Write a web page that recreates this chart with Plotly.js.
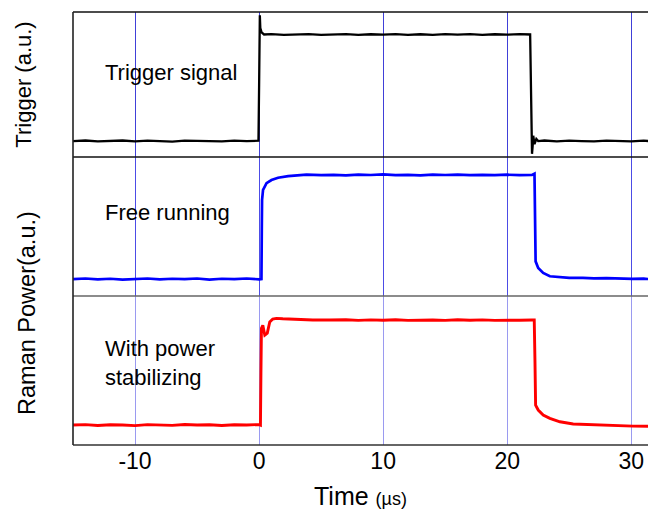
<!DOCTYPE html>
<html>
<head>
<meta charset="utf-8">
<script src="https://cdn.plot.ly/plotly-3.0.1.min.js"></script>
<style>html,body{margin:0;padding:0;background:#fff;}#chart{width:648px;height:515px;}</style>
</head>
<body>
<div id="chart"></div>
<script>
// Time axis ticks (µs)
const tickVals = [-10, 0, 10, 20, 30];
const tickText = ["-10", "0", "10", "20", "30"];

// Trigger signal (normalized a.u.)
const trigX = [-15, -14, -13, -12, -11, -10, -9, -8, -7, -6, -5, -4, -3, -2, -1, -0.05, 0.0, 0.02, 0.06, 0.10, 0.2, 0.4, 1, 2, 3, 4, 5, 6, 7, 8, 9, 10, 11, 12, 13, 14, 15, 16, 17, 18, 19, 20, 21, 21.85, 21.9, 21.95, 22.0, 22.05, 22.1, 22.2, 22.35, 22.5, 23, 24, 25, 26, 27, 28, 29, 30, 31, 31.4];
const trigY = [0.0, 0.005, -0.004, 0.0, 0.005, -0.003, 0.004, 0.0, -0.005, 0.003, 0.005, 0.0, -0.004, 0.004, 0.0, 0.003, 0.5, 1.10, 1.18, 1.06, 1.02, 1.0, 1.003, 0.997, 1.0, 1.003, 0.997, 1.0, 1.004, 0.997, 1.002, 0.998, 1.003, 0.997, 1.002, 0.997, 1.003, 0.999, 1.003, 0.997, 1.002, 0.998, 1.003, 1.0, 0.5, -0.02, -0.12, -0.05, 0.05, -0.03, 0.02, 0.0, 0.005, -0.003, 0.004, 0.0, -0.004, 0.003, 0.0, -0.003, 0.004, 0.0];

// Raman power, free running (normalized a.u.)
const freeX = [-15, -14, -13, -12, -11, -10, -9, -8, -7, -6, -5, -4, -3, -2, -1, 0.0, 0.19, 0.22, 0.24, 0.32, 0.6, 1.0, 1.53, 2.34, 3.82, 5, 6, 7, 8, 9, 10, 11, 12, 13, 14, 15, 16, 17, 18, 19, 20, 21, 22.0, 22.2, 22.25, 22.29, 22.5, 22.9, 23.44, 24.25, 25, 26.1, 27, 28, 29, 30.1, 31, 31.4];
const freeY = [0.0, 0.005, -0.003, 0.003, -0.005, 0.0, 0.005, -0.003, 0.003, 0.0, 0.005, -0.005, 0.003, 0.0, 0.005, -0.003, 0.0, 0.50, 0.76, 0.856, 0.921, 0.952, 0.974, 0.990, 1.003, 0.998, 1.002, 0.996, 1.004, 1.0, 1.006, 0.998, 1.002, 0.997, 1.003, 1.0, 1.004, 0.998, 1.002, 0.998, 1.003, 0.999, 1.0, 1.012, 0.6, 0.17, 0.107, 0.059, 0.027, 0.017, 0.012, 0.011, 0.006, 0.009, 0.003, 0.002, 0.004, 0.0];

// Raman power, with power stabilizing (normalized a.u.)
const stabX = [-15, -14, -13, -12, -11, -10, -9, -8, -7, -6, -5, -4, -3, -2, -1, 0.0, 0.11, 0.15, 0.19, 0.30, 0.38, 0.46, 0.66, 0.86, 1.10, 1.40, 1.91, 3.02, 4.33, 5.7, 7, 8, 9, 10, 11, 12, 13, 14, 15, 16, 17, 18, 19, 20, 21, 22.0, 22.18, 22.24, 22.29, 22.5, 22.9, 23.44, 24.25, 25.32, 26.5, 27.47, 28.5, 29.5, 30.13, 31.4];
const stabY = [0.0, 0.004, -0.004, 0.003, 0.0, -0.005, 0.004, 0.0, -0.003, 0.005, 0.0, 0.003, -0.004, 0.003, 0.0, 0.005, 0.0, 0.5, 0.921, 0.95, 0.90, 0.857, 0.876, 0.981, 1.010, 1.016, 1.012, 1.006, 1.0, 1.0, 1.003, 0.997, 1.002, 0.998, 1.003, 0.997, 1.001, 1.0, 0.997, 1.003, 0.998, 1.002, 0.997, 1.001, 0.998, 1.0, 1.0, 0.6, 0.19, 0.143, 0.095, 0.064, 0.031, 0.010, 0.004, 0.0, -0.004, -0.006, -0.01, -0.012];

const FONT = "Liberation Sans, Arial, sans-serif";

const traces = [
  {x: trigX, y: trigY, xaxis: "x3", yaxis: "y3", mode: "lines", line: {color: "#000000", width: 2.3}, hoverinfo: "skip"},
  {x: freeX, y: freeY, xaxis: "x2", yaxis: "y2", mode: "lines", line: {color: "#0000ff", width: 2.7}, hoverinfo: "skip"},
  {x: stabX, y: stabY, xaxis: "x", yaxis: "y", mode: "lines", line: {color: "#ff0000", width: 2.9}, hoverinfo: "skip"}
];

const yCommon = {showticklabels: false, ticks: "", showgrid: false, zeroline: false, showline: false, fixedrange: true};
const xHidden = (anchor, col) => ({range: [-15, 31.35], matches: "x", anchor: anchor, tickvals: tickVals, showticklabels: false, ticks: "",
  showgrid: true, gridcolor: col, gridwidth: 1, zeroline: false, showline: false});

const layout = {
  width: 648, height: 515,
  margin: {l: 73, r: 0, t: 12, b: 70, pad: 0},
  paper_bgcolor: "#ffffff", plot_bgcolor: "#ffffff",
  showlegend: false,
  font: {family: FONT, color: "#000"},
  xaxis: {
    range: [-15, 31.35], tickvals: tickVals, ticktext: tickText, anchor: "y",
    showgrid: true, gridcolor: "#9a9af0", gridwidth: 1,
    zeroline: false, showline: false, ticks: "",
    tickfont: {size: 23, family: FONT, color: "#000"},
    title: {text: "Time <span style='font-size:18px'>(µs)</span>", font: {size: 25, family: FONT}, standoff: 14}
  },
  xaxis2: xHidden("y2", "#4c4ce6"),
  xaxis3: xHidden("y3", "#4040d8"),
  yaxis: Object.assign({}, yCommon, {domain: [0, 0.3441], range: [-0.19, 1.229]}),
  yaxis2: Object.assign({}, yCommon, {domain: [0.3441, 0.6651], range: [-0.163, 1.173]}),
  yaxis3: Object.assign({}, yCommon, {domain: [0.6651, 1], range: [-0.15, 1.211],
    title: {text: "Trigger (a.u.)", font: {size: 22, family: FONT}, standoff: 34}}),
  shapes: [
    {type: "line", xref: "paper", yref: "paper", x0: 0, x1: 1, y0: 1, y1: 1, line: {color: "#111", width: 1.6}},
    {type: "line", xref: "paper", yref: "paper", x0: 0, x1: 1, y0: 0.6651, y1: 0.6651, line: {color: "#111", width: 1.6}},
    {type: "line", xref: "paper", yref: "paper", x0: 0, x1: 1, y0: 0.3441, y1: 0.3441, line: {color: "#666", width: 1.6}},
    {type: "line", xref: "paper", yref: "paper", x0: 0, x1: 1, y0: 0, y1: 0, line: {color: "#333", width: 1.6}},
    {type: "line", xref: "paper", yref: "paper", x0: 0, x1: 0, y0: 0, y1: 1, line: {color: "#222", width: 1.6}}
  ],
  annotations: [
    {text: "Trigger signal", xref: "x", yref: "y3", x: -12.6, y: 0.64, xanchor: "left", yanchor: "middle", showarrow: false, font: {size: 22, family: FONT}},
    {text: "Free running", xref: "x", yref: "y2", x: -12.6, y: 0.636, xanchor: "left", yanchor: "middle", showarrow: false, font: {size: 22, family: FONT}},
    {text: "With power<br>stabilizing", xref: "x", yref: "y", x: -12.6, y: 0.59, xanchor: "left", yanchor: "middle", align: "left", showarrow: false, font: {size: 22, family: FONT}},
    {text: "Raman Power(a.u.)", xref: "paper", yref: "paper", x: -0.08, y: 0.305, xanchor: "center", yanchor: "middle", textangle: -90, showarrow: false, font: {size: 23.5, family: FONT}}
  ]
};

Plotly.newPlot("chart", traces, layout, {staticPlot: true, displayModeBar: false});
</script>
</body>
</html>
